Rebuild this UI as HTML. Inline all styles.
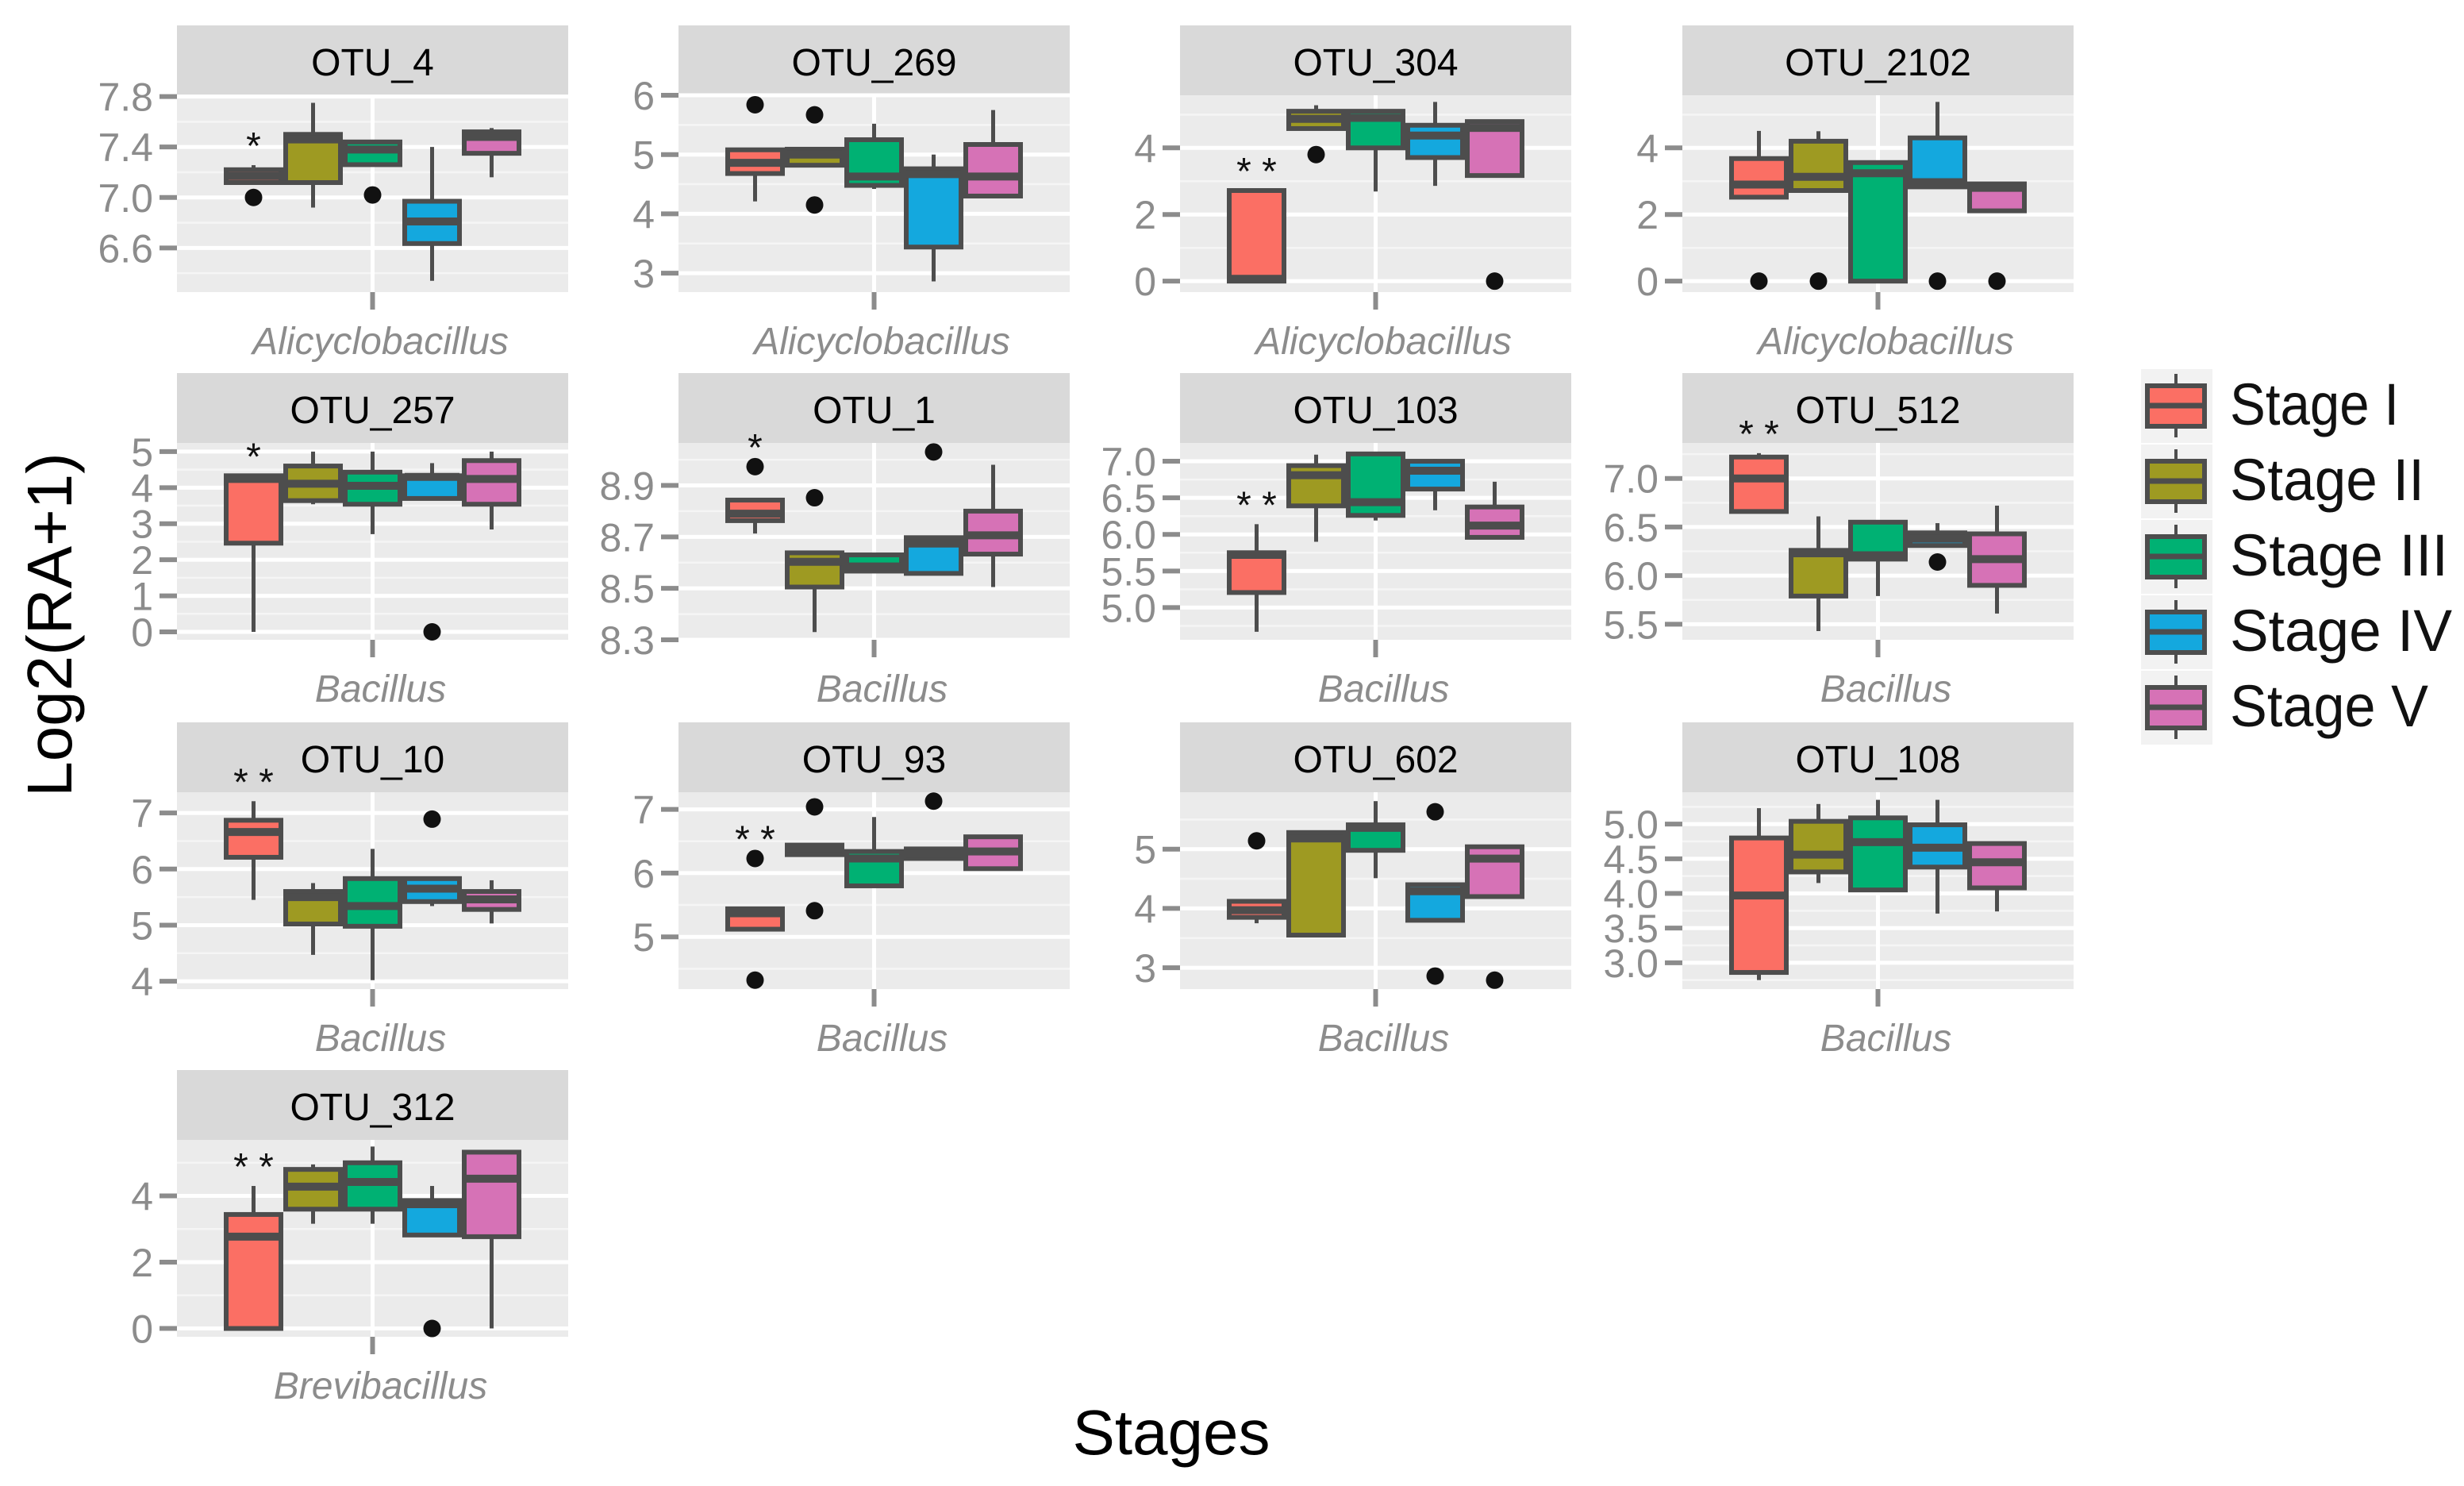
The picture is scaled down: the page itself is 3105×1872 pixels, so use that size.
<!DOCTYPE html>
<html>
<head>
<meta charset="utf-8">
<style>
html,body{margin:0;padding:0;background:#fff;}
svg{display:block;}
text{font-family:"Liberation Sans",sans-serif;}
</style>
</head>
<body>
<svg id="chart" xmlns="http://www.w3.org/2000/svg" width="3105" height="1872" viewBox="0 0 3105 1872">
<rect x="0" y="0" width="3105" height="1872" fill="#ffffff"/>
<g id="panels"></g>
<g id="legend"></g>
<text x="0" y="0" font-size="80" fill="#000" text-anchor="middle" transform="translate(90,787) rotate(-90)">Log2(RA+1)</text>
<text x="1476" y="1832" font-size="80" fill="#000" text-anchor="middle">Stages</text>
</svg>
<script>
const otuNames = ["OTU_4","OTU_269","OTU_304","OTU_2102","OTU_257","OTU_1","OTU_103","OTU_512","OTU_10","OTU_93","OTU_602","OTU_108","OTU_312"];
const genusLabels = ["Alicyclobacillus","Alicyclobacillus","Alicyclobacillus","Alicyclobacillus","Bacillus","Bacillus","Bacillus","Bacillus","Bacillus","Bacillus","Bacillus","Bacillus","Brevibacillus"];
const stageNames = ["Stage I","Stage II","Stage III","Stage IV","Stage V"];
const yMin = [6.25,2.68,-0.33,-0.33,-0.22,8.3,4.56,5.34,3.86,4.18,2.64,2.62,-0.25];
const yMax = [7.81,6.0,5.58,5.58,5.24,9.065,7.25,7.365,7.37,7.27,5.96,5.46,5.69];
const tickLabels = [
 ["6.6","7.0","7.4","7.8"],["3","4","5","6"],["0","2","4"],["0","2","4"],
 ["0","1","2","3","4","5"],["8.3","8.5","8.7","8.9"],["5.0","5.5","6.0","6.5","7.0"],["5.5","6.0","6.5","7.0"],
 ["4","5","6","7"],["5","6","7"],["3","4","5"],["3.0","3.5","4.0","4.5","5.0"],["0","2","4"]
];
const whiskerLow = [
 [7.118,6.92,7.26,6.34,7.16],[4.21,4.82,4.42,2.86,4.3],[0,4.58,2.69,2.86,3.17],[2.52,2.72,0,2.83,2.11],
 [0,3.54,2.71,3.70,2.84],[8.713,8.33,8.567,8.558,8.505],[4.67,5.9,6.19,6.33,5.96],[6.66,5.43,5.79,6.31,5.61],
 [5.45,4.47,4.02,5.34,5.03],[5.12,6.29,5.8,6.23,6.07],[3.75,3.55,4.51,3.8,4.2],[2.75,4.15,4.05,3.71,3.74],[0,3.16,3.16,2.82,0]
];
const q1Values = [
 [7.118,7.118,7.26,6.635,7.35],[4.68,4.82,4.48,3.44,4.3],[0,4.58,4.0,3.71,3.17],[2.52,2.72,0,2.83,2.11],
 [2.46,3.64,3.54,3.70,3.54],[8.763,8.505,8.567,8.558,8.633],[5.206,6.39,6.26,6.62,5.96],[6.66,5.79,6.17,6.31,5.9],
 [6.21,5.02,4.98,5.42,5.28],[5.12,6.29,5.8,6.23,6.07],[3.85,3.55,4.98,3.8,4.2],[2.86,4.31,4.05,4.38,4.08],[0,3.6,3.6,2.82,2.77]
];
const medianValues = [
 [7.17,7.46,7.38,6.81,7.48],[4.86,5.0,4.63,4.67,4.63],[0.07,4.87,4.9,4.37,4.6],[2.9,3.13,3.24,2.97,2.8],
 [4.24,4.11,4.05,4.3,4.24],[8.79,8.603,8.585,8.674,8.706],[5.72,6.81,6.44,6.87,6.12],[7.0,6.23,6.21,6.38,6.17],
 [6.66,5.5,5.34,5.65,5.46],[5.37,6.38,6.23,6.3,6.34],[3.97,5.18,5.36,4.29,4.84],[3.97,4.56,4.74,4.66,4.45],[2.77,4.28,4.42,3.75,4.52]
];
const q3Values = [
 [7.22,7.5,7.44,6.97,7.52],[5.08,5.09,5.25,4.76,5.17],[2.72,5.1,5.1,4.68,4.79],[3.68,4.2,3.56,4.3,2.92],
 [4.33,4.6,4.43,4.33,4.75],[8.843,8.638,8.63,8.697,8.8],[5.75,6.94,7.1,7.0,6.375],[7.22,6.26,6.55,6.44,6.43],
 [6.87,5.6,5.83,5.83,5.6],[5.44,6.44,6.34,6.38,6.57],[4.12,5.28,5.41,4.4,5.04],[4.8,5.04,5.09,4.99,4.72],[3.44,4.8,5.0,3.86,5.32]
];
const whiskerHigh = [
 [7.256,7.75,7.45,7.4,7.55],[5.08,5.09,5.52,5.0,5.75],[2.72,5.28,5.12,5.38,4.79],[4.51,4.5,3.56,5.38,2.92],
 [4.33,5.0,5.0,4.68,5.0],[8.843,8.638,8.63,8.697,8.98],[6.14,7.09,7.1,7.03,6.72],[7.26,6.61,6.55,6.54,6.72],
 [7.21,5.75,6.36,5.83,5.8],[5.44,6.44,6.88,6.38,6.6],[4.12,5.28,5.81,4.4,5.04],[5.23,5.29,5.35,5.35,4.72],[4.3,4.95,5.49,4.3,5.32]
];
const outlierValues = [
 [[7.0],[],[7.02],[],[]],[[5.84],[5.67,4.15],[],[],[]],[[],[3.8],[],[],[0]],[[0],[0],[],[0],[0]],
 [[],[],[],[0],[]],[[8.973],[8.852],[],[9.03],[]],[[],[],[],[],[]],[[],[],[],[6.14],[]],
 [[],[],[],[6.89],[]],[[6.23,4.32],[7.04,5.41],[],[7.13],[]],[[5.14],[],[],[5.63,2.86],[2.79]],[[],[],[],[],[]],[[],[],[],[0],[]]
];
const sigLabels = ["*","","**","","*","*","**","**","**","**","","","**"];

const fills = ["#FB6F64","#9E9A22","#00B173","#14A8DE","#D672B6"];
const colLeft = [223,855,1487,2120];
const stripTop = [32,470,910,1348];
const PW = 493, SH = 88, PH = 248, BW = 75;
const NS = "http://www.w3.org/2000/svg";
function mk(tag, attrs, parent){ const e=document.createElementNS(NS,tag); for(const k in attrs) e.setAttribute(k,attrs[k]); parent.appendChild(e); return e; }

const panelsG = document.getElementById('panels');
otuNames.forEach((name,p)=>{
  const r = Math.floor(p/4), c = p%4;
  const x0 = colLeft[c], st = stripTop[r], y0 = st+SH, y1 = y0+PH;
  const yScale = v => y1 - (v - yMin[p])/(yMax[p]-yMin[p])*PH;
  const g = mk('g',{},panelsG);
  
  
  const strip = mk('rect',{x:x0,y:st,width:PW,height:SH,fill:"#D9D9D9"},g);
  
  
  const st_t = mk('text',{x:x0+PW/2,y:st+63,'font-size':48,'text-anchor':'middle',fill:'#000'},g);
  st_t.textContent = name;
  
  
  const bg = mk('rect',{x:x0,y:y0,width:PW,height:PH,fill:"#EBEBEB"},g);
  
  
  const ticks = tickLabels[p].map(Number);
  const step = ticks[1]-ticks[0];
  const minors = [];
  for(let i=-1;i<ticks.length;i++){ const m = (i<0?ticks[0]:ticks[i]) + (i<0?-step/2:step/2); if(m>yMin[p]&&m<yMax[p]) minors.push(m); }
  minors.forEach(m=>{
    const l = mk('line',{x1:x0,x2:x0+PW,y1:yScale(m),y2:yScale(m),stroke:'#F5F5F5','stroke-width':2.5},g);
    
    
  });
  ticks.forEach((t,i)=>{
    const y = yScale(t);
    const l = mk('line',{x1:x0,x2:x0+PW,y1:y,y2:y,stroke:'#fff','stroke-width':5},g);
    
    
    const tk = mk('line',{x1:x0-22,x2:x0,y1:y,y2:y,stroke:'#8C8C8C','stroke-width':6},g);
    
    
    const tl = mk('text',{x:x0-30,y:y+18,'font-size':50,'text-anchor':'end',fill:'#8C8C8C'},g);
    tl.textContent = tickLabels[p][i];
    
    
  });
  const cx = x0+PW/2;
  const vg = mk('line',{x1:cx,x2:cx,y1:y0,y2:y1,stroke:'#fff','stroke-width':5},g);
  
  
  const xt = mk('line',{x1:cx,x2:cx,y1:y1,y2:y1+22,stroke:'#8C8C8C','stroke-width':6},g);
  
  
  const gl = mk('text',{x:cx+10,y:y1+78,'font-size':48,'font-style':'italic','text-anchor':'middle',fill:'#8C8C8C'},g);
  gl.textContent = genusLabels[p];
  
  
  for(let s=0;s<5;s++){
    const bx = cx + (s-2)*BW;
    const bgrp = mk('g',{},g);
    
    
    mk('line',{x1:bx,x2:bx,y1:yScale(whiskerHigh[p][s]),y2:yScale(q3Values[p][s]),stroke:'#4D4D4D','stroke-width':5},bgrp);
    mk('line',{x1:bx,x2:bx,y1:yScale(q1Values[p][s]),y2:yScale(whiskerLow[p][s]),stroke:'#4D4D4D','stroke-width':5},bgrp);
    const ty = yScale(q3Values[p][s]), by = yScale(q1Values[p][s]);
    mk('rect',{x:bx-BW/2+3,y:ty,width:BW-6,height:Math.max(by-ty,1),fill:fills[s],stroke:'#4D4D4D','stroke-width':6},bgrp);
    const my = yScale(medianValues[p][s]);
    mk('line',{x1:bx-BW/2+3,x2:bx+BW/2-3,y1:my,y2:my,stroke:'#4D4D4D','stroke-width':10},bgrp);
    outlierValues[p][s].forEach(o=>{
      const d = mk('circle',{cx:bx,cy:yScale(o),r:11,fill:'#111'},bgrp);
      
      
    });
  }
  if(sigLabels[p]){
    const top = Math.max(whiskerHigh[p][0], ...outlierValues[p][0]);
    const sg = mk('text',{x:cx-2*BW,y:yScale(top)-8,'font-size':48,'text-anchor':'middle',fill:'#111'},g);
    sg.textContent = sigLabels[p].split('').join(' ');
    
    
  }
});

const lg = document.getElementById('legend');
stageNames.forEach((nm,i)=>{
  const yT = 465 + i*95;
  const e = mk('g',{},lg);
  
  
  mk('rect',{x:2698,y:yT,width:90,height:93,fill:'#F2F2F2'},e);
  const c = yT+46;
  mk('line',{x1:2742,x2:2742,y1:c-40,y2:c+40,stroke:'#4D4D4D','stroke-width':4},e);
  mk('rect',{x:2706,y:c-25,width:72,height:51,fill:fills[i],stroke:'#4D4D4D','stroke-width':6},e);
  mk('line',{x1:2706,x2:2778,y1:c,y2:c,stroke:'#4D4D4D','stroke-width':7},e);
  const t = mk('text',{x:2810,y:c+24,'font-size':74,fill:'#111'},e);
  t.textContent = nm;
  t.setAttribute('textLength', [213,245,275,280,250][i]);
  t.setAttribute('lengthAdjust', 'spacingAndGlyphs');
  
  
});
</script>
</body>
</html>
